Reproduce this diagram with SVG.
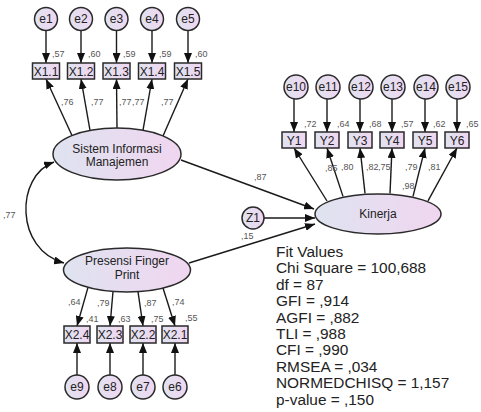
<svg xmlns="http://www.w3.org/2000/svg" width="481" height="412" viewBox="0 0 481 412">
<style>
.n{stroke:#2a2a2a;stroke-width:1.5;fill:url(#g)}
.t{font-family:"Liberation Sans",Arial,sans-serif;font-size:12px;fill:#222;text-anchor:middle}
.l{font-family:"Liberation Sans",Arial,sans-serif;font-size:9px;fill:#555}
.c line,.c path{stroke:#1a1a1a;stroke-width:1.4;fill:none}
.f{font-family:"Liberation Sans",Arial,sans-serif;font-size:15.4px;fill:#222}
</style>
<defs>
<linearGradient id="g" x1="0" y1="0" x2="1" y2="0">
<stop offset="0" stop-color="#dfe3f0"/>
<stop offset="1" stop-color="#f0d6f0"/>
</linearGradient>
<marker id="a" viewBox="0 0 10 8" refX="10" refY="4" markerWidth="10" markerHeight="8" markerUnits="userSpaceOnUse" orient="auto-start-reverse">
<path d="M0,0 L10,4 L0,8 z" fill="#111"/>
</marker>
</defs>

<g class="c" id="connectors">
<line x1="46" y1="31" x2="46" y2="63" marker-end="url(#a)"/>
<line x1="81" y1="31" x2="81" y2="63" marker-end="url(#a)"/>
<line x1="116.5" y1="31" x2="116.5" y2="63" marker-end="url(#a)"/>
<line x1="152" y1="31" x2="152" y2="63" marker-end="url(#a)"/>
<line x1="188" y1="31" x2="188" y2="63" marker-end="url(#a)"/>
<line x1="72" y1="135.5" x2="46" y2="79" marker-end="url(#a)"/>
<line x1="90" y1="130.4" x2="81" y2="79" marker-end="url(#a)"/>
<line x1="117" y1="128" x2="116.5" y2="79" marker-end="url(#a)"/>
<line x1="143" y1="130.2" x2="152" y2="79" marker-end="url(#a)"/>
<line x1="163" y1="136" x2="188" y2="79" marker-end="url(#a)"/>
<line x1="88" y1="287.4" x2="77" y2="326" marker-end="url(#a)"/>
<line x1="113" y1="291.5" x2="110" y2="326" marker-end="url(#a)"/>
<line x1="138" y1="291.7" x2="143" y2="326" marker-end="url(#a)"/>
<line x1="163" y1="288" x2="175" y2="326" marker-end="url(#a)"/>
<line x1="77" y1="375" x2="77" y2="343" marker-end="url(#a)"/>
<line x1="110" y1="375" x2="110" y2="343" marker-end="url(#a)"/>
<line x1="143" y1="375" x2="143" y2="343" marker-end="url(#a)"/>
<line x1="175" y1="375" x2="175" y2="343" marker-end="url(#a)"/>
<line x1="294" y1="99" x2="294" y2="132" marker-end="url(#a)"/>
<line x1="327" y1="99" x2="327" y2="132" marker-end="url(#a)"/>
<line x1="360" y1="99" x2="360" y2="132" marker-end="url(#a)"/>
<line x1="392" y1="99" x2="392" y2="132" marker-end="url(#a)"/>
<line x1="425" y1="99" x2="425" y2="132" marker-end="url(#a)"/>
<line x1="457" y1="99" x2="457" y2="132" marker-end="url(#a)"/>
<line x1="327" y1="201" x2="294" y2="148" marker-end="url(#a)"/>
<line x1="343" y1="196.4" x2="327" y2="148" marker-end="url(#a)"/>
<line x1="365" y1="193.4" x2="360" y2="148" marker-end="url(#a)"/>
<line x1="390" y1="193.4" x2="392" y2="148" marker-end="url(#a)"/>
<line x1="413" y1="196.4" x2="425" y2="148" marker-end="url(#a)"/>
<line x1="428" y1="200.8" x2="457" y2="148" marker-end="url(#a)"/>
<line x1="181" y1="160" x2="314" y2="209" marker-end="url(#a)"/>
<line x1="189" y1="263" x2="315" y2="224" marker-end="url(#a)"/>
<line x1="264" y1="218" x2="315" y2="218" marker-end="url(#a)"/>
<path d="M54,162 C15,176 15,250 64,263" marker-start="url(#a)" marker-end="url(#a)"/>
</g>

<g id="e1"><circle class="n" cx="46" cy="19" r="11.5"/><text class="t" x="46" y="23">e1</text></g>
<g id="e2"><circle class="n" cx="81" cy="19" r="11.5"/><text class="t" x="81" y="23">e2</text></g>
<g id="e3"><circle class="n" cx="116.5" cy="19" r="11.5"/><text class="t" x="116.5" y="23">e3</text></g>
<g id="e4"><circle class="n" cx="152" cy="19" r="11.5"/><text class="t" x="152" y="23">e4</text></g>
<g id="e5"><circle class="n" cx="188" cy="19" r="11.5"/><text class="t" x="188" y="23">e5</text></g>

<g id="X1.1"><rect class="n" x="32.5" y="63" width="27" height="16"/><text class="t" x="46" y="75.5">X1.1</text></g>
<g id="X1.2"><rect class="n" x="67.5" y="63" width="27" height="16"/><text class="t" x="81" y="75.5">X1.2</text></g>
<g id="X1.3"><rect class="n" x="103" y="63" width="27" height="16"/><text class="t" x="116.5" y="75.5">X1.3</text></g>
<g id="X1.4"><rect class="n" x="138.5" y="63" width="27" height="16"/><text class="t" x="152" y="75.5">X1.4</text></g>
<g id="X1.5"><rect class="n" x="174.5" y="63" width="27" height="16"/><text class="t" x="188" y="75.5">X1.5</text></g>

<g id="SIM"><ellipse class="n" cx="117" cy="154" rx="64" ry="26"/><text class="t" x="117" y="152.5">Sistem Informasi</text><text class="t" x="117" y="166">Manajemen</text></g>

<g id="Presensi"><ellipse class="n" cx="127" cy="270" rx="63.5" ry="22"/><text class="t" x="127" y="264.5">Presensi Finger</text><text class="t" x="127" y="279">Print</text></g>

<g id="X2.4"><rect class="n" x="64" y="326" width="26" height="17"/><text class="t" x="77" y="339">X2.4</text></g>
<g id="X2.3"><rect class="n" x="97" y="326" width="26" height="17"/><text class="t" x="110" y="339">X2.3</text></g>
<g id="X2.2"><rect class="n" x="130" y="326" width="26" height="17"/><text class="t" x="143" y="339">X2.2</text></g>
<g id="X2.1"><rect class="n" x="162" y="326" width="26" height="17"/><text class="t" x="175" y="339">X2.1</text></g>

<g id="e9"><circle class="n" cx="77" cy="387" r="12"/><text class="t" x="77" y="391">e9</text></g>
<g id="e8"><circle class="n" cx="110" cy="387" r="12"/><text class="t" x="110" y="391">e8</text></g>
<g id="e7"><circle class="n" cx="143" cy="387" r="12"/><text class="t" x="143" y="391">e7</text></g>
<g id="e6"><circle class="n" cx="175" cy="387" r="12"/><text class="t" x="175" y="391">e6</text></g>

<g id="Kinerja"><ellipse class="n" cx="378" cy="214" rx="63" ry="20"/><text class="t" x="378" y="218">Kinerja</text></g>
<g id="Z1"><circle class="n" cx="253" cy="218" r="11"/><text class="t" x="253" y="222">Z1</text></g>

<g id="Y1"><rect class="n" x="282" y="132" width="24" height="16"/><text class="t" x="294" y="144.5">Y1</text></g>
<g id="Y2"><rect class="n" x="315" y="132" width="24" height="16"/><text class="t" x="327" y="144.5">Y2</text></g>
<g id="Y3"><rect class="n" x="348" y="132" width="24" height="16"/><text class="t" x="360" y="144.5">Y3</text></g>
<g id="Y4"><rect class="n" x="380" y="132" width="24" height="16"/><text class="t" x="392" y="144.5">Y4</text></g>
<g id="Y5"><rect class="n" x="413" y="132" width="24" height="16"/><text class="t" x="425" y="144.5">Y5</text></g>
<g id="Y6"><rect class="n" x="445" y="132" width="24" height="16"/><text class="t" x="457" y="144.5">Y6</text></g>

<g id="e10"><circle class="n" cx="296" cy="87" r="12"/><text class="t" x="296" y="91">e10</text></g>
<g id="e11"><circle class="n" cx="328" cy="87" r="12"/><text class="t" x="328" y="91">e11</text></g>
<g id="e12"><circle class="n" cx="361" cy="87" r="12"/><text class="t" x="361" y="91">e12</text></g>
<g id="e13"><circle class="n" cx="393" cy="87" r="12"/><text class="t" x="393" y="91">e13</text></g>
<g id="e14"><circle class="n" cx="426" cy="87" r="12"/><text class="t" x="426" y="91">e14</text></g>
<g id="e15"><circle class="n" cx="458" cy="87" r="12"/><text class="t" x="458" y="91">e15</text></g>

<g id="labels">
<text class="l" x="52" y="57">,57</text>
<text class="l" x="88" y="57">,60</text>
<text class="l" x="123" y="57">,59</text>
<text class="l" x="159" y="57">,59</text>
<text class="l" x="195" y="57">,60</text>
<text class="l" x="61" y="105">,76</text>
<text class="l" x="91" y="105">,77</text>
<text class="l" x="119" y="105">,77</text>
<text class="l" x="132" y="105">,77</text>
<text class="l" x="161" y="105">,77</text>
<text class="l" x="3" y="218">,77</text>
<text class="l" x="254" y="180">,87</text>
<text class="l" x="241" y="239">,15</text>
<text class="l" x="68" y="305">,64</text>
<text class="l" x="97" y="306">,79</text>
<text class="l" x="144" y="306">,87</text>
<text class="l" x="172" y="305">,74</text>
<text class="l" x="86" y="322">,41</text>
<text class="l" x="118" y="322">,63</text>
<text class="l" x="151" y="322">,75</text>
<text class="l" x="185" y="321">,55</text>
<text class="l" x="304" y="127">,72</text>
<text class="l" x="337" y="127">,64</text>
<text class="l" x="369" y="127">,68</text>
<text class="l" x="401" y="127">,57</text>
<text class="l" x="433" y="127">,62</text>
<text class="l" x="466" y="127">,65</text>
<text class="l" x="325" y="171">,85</text>
<text class="l" x="341" y="170">,80</text>
<text class="l" x="366" y="170">,82</text>
<text class="l" x="378" y="170">,75</text>
<text class="l" x="405" y="170">,79</text>
<text class="l" x="428" y="170">,81</text>
<text class="l" x="402" y="189">,98</text>
</g>

<g id="fit">
<text class="f" x="276" y="257">Fit Values</text>
<text class="f" x="276" y="273.4">Chi Square = 100,688</text>
<text class="f" x="276" y="289.8">df = 87</text>
<text class="f" x="276" y="306.2">GFI = ,914</text>
<text class="f" x="276" y="322.6">AGFI = ,882</text>
<text class="f" x="276" y="339">TLI = ,988</text>
<text class="f" x="276" y="355.4">CFI = ,990</text>
<text class="f" x="276" y="371.8">RMSEA = ,034</text>
<text class="f" x="276" y="388.2">NORMEDCHISQ = 1,157</text>
<text class="f" x="276" y="404.6">p-value = ,150</text>
</g>
</svg>
